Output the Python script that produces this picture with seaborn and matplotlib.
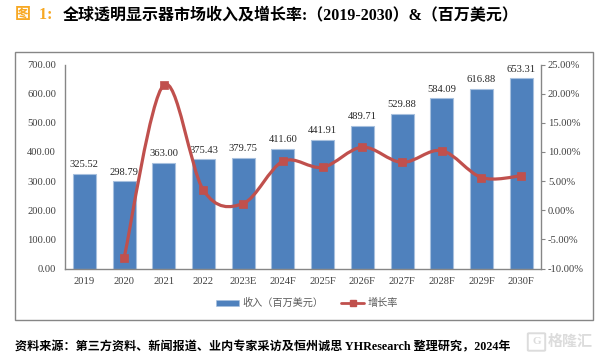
import matplotlib
matplotlib.use("Agg")
import matplotlib.pyplot as plt
import seaborn as sns
import pandas as pd
import numpy as np
from matplotlib.path import Path
from matplotlib.patches import PathPatch, Rectangle, FancyBboxPatch, Patch
from matplotlib.lines import Line2D

years = ["2019", "2020", "2021", "2022", "2023E", "2024F", "2025F", "2026F", "2027F", "2028F", "2029F", "2030F"]
revenue = [325.52, 298.79, 363.00, 375.43, 379.75, 411.60, 441.91, 489.71, 529.88, 584.09, 616.88, 653.31]
growth_years = years[1:]
growth = [-8.21, 21.49, 3.42, 1.15, 8.39, 7.36, 10.82, 8.20, 10.23, 5.61, 5.90]
left_ticks = [0, 100, 200, 300, 400, 500, 600, 700]
right_ticks = [-10, -5, 0, 5, 10, 15, 20, 25]
title_prefix = "图  1:"
title_main = "全球透明显示器市场收入及增长率:（2019-2030）&（百万美元）"
source_text = "资料来源：第三方资料、新闻报道、业内专家采访及恒州诚思 YHResearch 整理研究，2024年"
legend_labels = ["收入（百万美元）", "增长率"]

W, H = 601, 360
BLUE, RED, GRAY, TXT = "#4F81BD", "#C0504D", "#868686", "#404040"
FONT = ["Liberation Serif", "Noto Sans CJK SC"]

sns.set_theme(style="white")
plt.rcParams["font.family"] = FONT
plt.rcParams["axes.unicode_minus"] = False

fig = plt.figure(figsize=(W / 100, H / 100), dpi=100, facecolor="white")
L, R, T, B = 64.5, 541, 64.5, 268.5
ax = fig.add_axes([L / W, 1 - B / H, (R - L) / W, (B - T) / H])
ax.patch.set_alpha(0)

df = pd.DataFrame({"year": years, "revenue": revenue})
sns.barplot(data=df, x="year", y="revenue", ax=ax, color=BLUE, saturation=1, width=0.58,
            edgecolor="#A7C0DE", linewidth=0.8, order=years)
ax.set_xlim(-0.5, 11.5)
ax.set_ylim(0, 700)
ax.set_yticks(left_ticks)
ax.set_yticklabels([f"{v:.2f}" for v in left_ticks], fontsize=7.6, color=TXT)
ax.set_xlabel("")
ax.set_ylabel("")
ax.tick_params(axis="x", length=0, labelsize=7.6, labelcolor=TXT, pad=6)
ax.tick_params(axis="y", length=0, pad=6)
for c in ax.containers:
    ax.bar_label(c, labels=[f"{v:.2f}" for v in revenue], fontsize=7.6, color="#262626", padding=3.3)
for s in ["top", "right"]:
    ax.spines[s].set_visible(False)
for s in ["left", "bottom"]:
    ax.spines[s].set_color(GRAY)
    ax.spines[s].set_linewidth(1)

ax2 = ax.twinx()
ax2.set_ylim(-10, 25)
ax2.set_yticks(right_ticks)
ax2.set_yticklabels([f"{v:.2f}%" for v in right_ticks], fontsize=7.6, color=TXT)
ax2.tick_params(axis="y", length=3, width=0.8, color=GRAY, direction="out", pad=2)
ax2.grid(False)
ax2.set_ylabel("")
for s in ["top", "left", "bottom"]:
    ax2.spines[s].set_visible(False)
ax2.spines["right"].set_color(GRAY)
ax2.spines["right"].set_linewidth(1)

xs = np.array([years.index(y) for y in growth_years], dtype=float)
ys = np.array(growth, dtype=float)
verts = [(xs[0], ys[0])]
codes = [Path.MOVETO]
n = len(xs)
for i in range(n - 1):
    p0 = (xs[max(i - 1, 0)], ys[max(i - 1, 0)])
    p1 = (xs[i], ys[i])
    p2 = (xs[i + 1], ys[i + 1])
    p3 = (xs[min(i + 2, n - 1)], ys[min(i + 2, n - 1)])
    verts += [(p1[0] + (p2[0] - p0[0]) / 6, p1[1] + (p2[1] - p0[1]) / 6),
              (p2[0] - (p3[0] - p1[0]) / 6, p2[1] - (p3[1] - p1[1]) / 6), p2]
    codes += [Path.CURVE4] * 3
ax2.add_patch(PathPatch(Path(verts, codes), fc="none", ec=RED, lw=2.3, capstyle="round", zorder=3))
sns.scatterplot(x=xs, y=ys, ax=ax2, marker="s", s=38, color=RED, edgecolor=RED, linewidth=0.5, zorder=4, legend=False, clip_on=False)
ax2.set_xlim(-0.5, 11.5)

fig.add_artist(Rectangle((15 / W, 1 - 320 / H), (593 - 15) / W, (320 - 52) / H, transform=fig.transFigure,
                         fc="none", ec=GRAY, lw=1))

handles = [Patch(fc=BLUE, ec="#A7C0DE", lw=0.4),
           Line2D([0], [0], color=RED, lw=2.0, marker="s", ms=5)]
fig.legend(handles, legend_labels, loc="center", bbox_to_anchor=(307 / W, 1 - 303 / H), ncol=2, frameon=False,
           fontsize=7.3, labelcolor="#595959", handlelength=2.27, handleheight=0.55, handletextpad=0.3,
           columnspacing=1.8, borderpad=0)

fig.text(15 / W, 1 - 15 / H, title_prefix, fontsize=11.5, fontweight="bold", color="#F7A823", va="center", ha="left")
fig.text(63 / W, 1 - 15 / H, title_main, fontsize=11.5, fontweight="bold", color="black", va="center", ha="left")
fig.text(15 / W, 1 - 347 / H, source_text, fontsize=8.7, fontweight="bold", color="black", va="center", ha="left")

fig.add_artist(FancyBboxPatch((529 / W, 1 - 350 / H), 15 / W, 16 / H, boxstyle="round,pad=0.002", transform=fig.transFigure,
                              fc="none", ec="#DCDCDC", lw=1.4))
fig.text(536.5 / W, 1 - 342 / H, "G", fontsize=8, fontweight="bold", color="#DCDCDC", va="center", ha="center")
fig.text(548 / W, 1 - 342 / H, "格隆汇", fontsize=10.8, fontweight="bold", color="#DCDCDC", va="center", ha="left")

fig.savefig("out.png", dpi=100, facecolor="white")
